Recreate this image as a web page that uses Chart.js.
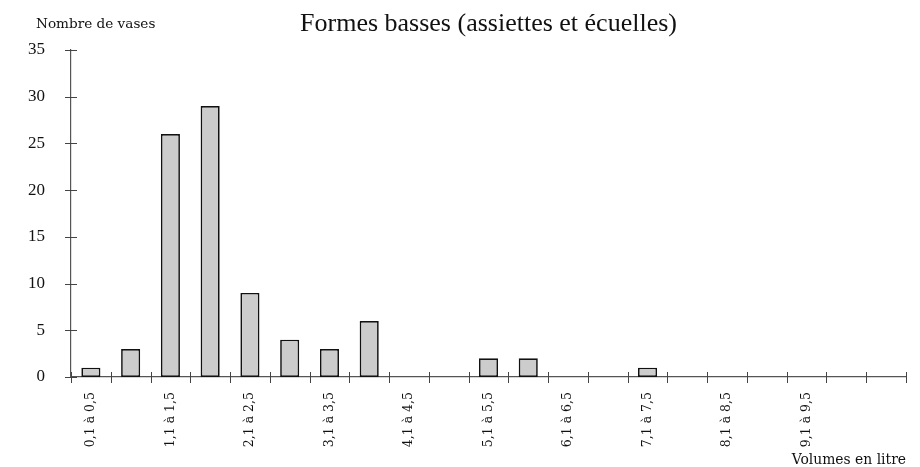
<!DOCTYPE html>
<html>
<head>
<meta charset="utf-8">
<script src="https://cdn.jsdelivr.net/npm/chart.js@4/dist/chart.umd.min.js"></script>
<style>
  html, body { margin: 0; padding: 0; background: #fff; }
  #wrap { width: 920px; height: 467px; }
</style>
</head>
<body>
<div id="wrap"><canvas id="chart" width="920" height="467"></canvas></div>
<script>
// classes de volume (une étiquette sur deux est affichée)
const categories = [
  '0,1 à 0,5', '0,6 à 1', '1,1 à 1,5', '1,6 à 2', '2,1 à 2,5', '2,6 à 3',
  '3,1 à 3,5', '3,6 à 4', '4,1 à 4,5', '4,6 à 5', '5,1 à 5,5', '5,6 à 6',
  '6,1 à 6,5', '6,6 à 7', '7,1 à 7,5', '7,6 à 8', '8,1 à 8,5', '8,6 à 9',
  '9,1 à 9,5', '9,6 à 10', '10,1 à 10,5'
];
const tickLabels = [
  '0,1 à 0,5', '', '1,1 à 1,5', '', '2,1 à 2,5', '',
  '3,1 à 3,5', '', '4,1 à 4,5', '', '5,1 à 5,5', '',
  '6,1 à 6,5', '', '7,1 à 7,5', '', '8,1 à 8,5', '',
  '9,1 à 9,5', '', ''
];
const nbVases = [1, 3, 26, 29, 9, 4, 3, 6, 0, 0, 2, 2, 0, 0, 1, 0, 0, 0, 0, 0, 0];
const yTicks = [0, 5, 10, 15, 20, 25, 30, 35];

const titre = 'Formes basses (assiettes et écuelles)';
const titreY = 'Nombre de vases';
const titreX = 'Volumes en litre';

const serif = '"Liberation Serif", "DejaVu Serif", serif';
const serifLarge = '"DejaVu Serif", "Liberation Serif", serif';

// petits traits qui traversent les axes + textes
const axisDecor = {
  id: 'axisDecor',
  afterDraw(chart) {
    const ctx = chart.ctx;
    const x = chart.scales.x;
    const y = chart.scales.y;
    const area = chart.chartArea;
    ctx.save();
    ctx.strokeStyle = '#444';
    ctx.lineWidth = 1;
    // traits de l'axe X aux limites des classes
    const step = x.getPixelForValue(1) - x.getPixelForValue(0);
    for (let i = 0; i <= categories.length; i++) {
      const px = Math.round(x.getPixelForValue(i) - step / 2) + 0.5;
      ctx.beginPath();
      ctx.moveTo(px, y.bottom - 5);
      ctx.lineTo(px, y.bottom + 6);
      ctx.stroke();
    }
    // traits de l'axe Y
    yTicks.forEach(v => {
      const py = Math.round(y.getPixelForValue(v)) + 0.5;
      ctx.beginPath();
      ctx.moveTo(area.left - 6, py);
      ctx.lineTo(area.left + 6, py);
      ctx.stroke();
    });
    // textes
    ctx.fillStyle = '#111';
    ctx.textBaseline = 'alphabetic';
    ctx.font = '26px ' + serif;
    ctx.textAlign = 'center';
    ctx.fillText(titre, (area.left + area.right) / 2, area.top - 19);
    ctx.font = '13.6px ' + serifLarge;
    ctx.textAlign = 'left';
    ctx.fillText(titreY, area.left - 35, area.top - 22);
    ctx.font = '13.9px ' + serifLarge;
    ctx.textAlign = 'right';
    ctx.fillText(titreX, area.right, chart.height - 3);
    ctx.restore();
  }
};

new Chart(document.getElementById('chart'), {
  type: 'bar',
  data: {
    labels: categories,
    datasets: [{
      data: nbVases,
      backgroundColor: '#cccccc',
      borderColor: '#111111',
      borderWidth: 1.7,
      borderSkipped: false,
      barPercentage: 0.48,
      categoryPercentage: 1
    }]
  },
  options: {
    responsive: false,
    animation: false,
    layout: { padding: { left: 0, top: 50, right: 14, bottom: 0 } },
    plugins: {
      legend: { display: false },
      title: { display: false },
      tooltip: { enabled: false }
    },
    scales: {
      x: {
        offset: true,
        grid: { display: false, offset: true },
        border: { display: true, color: '#555', width: 1.2 },
        ticks: {
          autoSkip: false,
          minRotation: 90,
          maxRotation: 90,
          padding: 7,
          color: '#111',
          font: { family: serifLarge, size: 12.5 },
          callback: (v, i) => tickLabels[i]
        },
        afterFit: s => { s.height = 90; }
      },
      y: {
        min: 0,
        max: 35,
        grid: { display: false },
        border: { display: true, color: '#555', width: 1.2 },
        afterBuildTicks: s => { s.ticks = yTicks.map(v => ({ value: v })); },
        ticks: {
          padding: 18,
          color: '#111',
          font: { family: serif, size: 17 }
        },
        afterFit: s => { s.width = 71; }
      }
    }
  },
  plugins: [axisDecor]
});
</script>
</body>
</html>
